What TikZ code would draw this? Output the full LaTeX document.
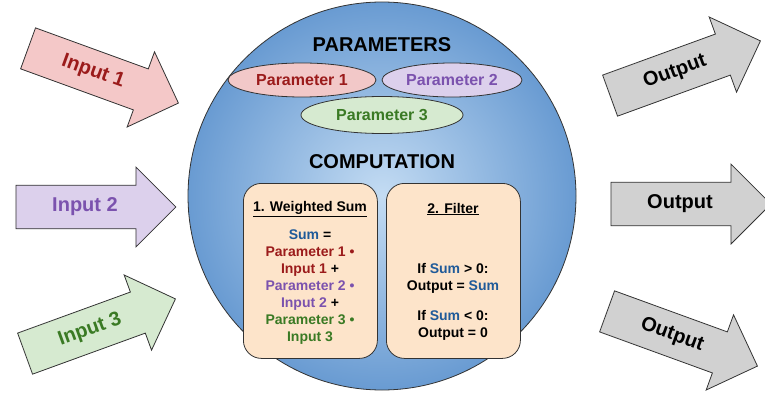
\documentclass[tikz,border=0pt]{standalone}
\usepackage{fontspec}
\setmainfont{Liberation Sans}
\usetikzlibrary{shapes.arrows,shapes.geometric}
\definecolor{cred}{HTML}{9B1B1B}
\definecolor{cpur}{HTML}{7B52AE}
\definecolor{cgrn}{HTML}{3A7A24}
\definecolor{cblu}{HTML}{1F5A99}
\begin{document}
\begin{tikzpicture}[x=1pt,y=-1pt,
  arr/.style={single arrow, draw=black!80, line width=0.8pt, minimum width=80pt, minimum height=160pt, single arrow head extend=17pt, inner xsep=4pt, inner ysep=11pt, font=\fontsize{20}{24}\selectfont\bfseries},
  par/.style={ellipse, draw=black!80, line width=0.8pt, inner sep=0pt, font=\fontsize{16}{18}\selectfont\bfseries},
  box/.style={rounded corners=18pt, draw=black!80, line width=0.8pt, fill={rgb,255:red,253;green,228;blue,202}, minimum width=134pt, minimum height=175pt, anchor=north west},
  btxt/.style={align=center, font=\fontsize{14}{17}\selectfont\bfseries}]
\useasboundingbox (0,0) rectangle (765,409);
\node[circle, draw=black!80, line width=0.8pt, minimum size=388pt, inner color={rgb,255:red,196;green,220;blue,243}, outer color={rgb,255:red,105;green,155;blue,210}] (c) at (382,196) {};
\node[font=\fontsize{20}{24}\selectfont\bfseries] (pt) at (382,45) {PARAMETERS};
\node[par, fill={rgb,255:red,242;green,200;blue,200}, text=cred, minimum width=148pt, minimum height=34pt] (p1) at (302,80) {Parameter 1};
\node[par, fill={rgb,255:red,220;green,208;blue,236}, text=cpur, minimum width=140pt, minimum height=34pt] (p2) at (452,80) {Parameter 2};
\node[par, fill={rgb,255:red,214;green,234;blue,208}, text=cgrn, minimum width=162pt, minimum height=37pt] (p3) at (382,115) {Parameter 3};
\node[font=\fontsize{20}{24}\selectfont\bfseries] (ct) at (382,162) {COMPUTATION};
\node[box] (b1) at (243,183) {};
\node[box] (b2) at (386,183) {};
\node[btxt] (b1t) at (310,209) {\underline{1. Weighted Sum}};
\node[btxt, anchor=north] (b1b) at (310,226) {\textcolor{cblu}{Sum} =\\ \textcolor{cred}{Parameter 1 •}\\ \textcolor{cred}{Input 1} +\\ \textcolor{cpur}{Parameter 2 •}\\ \textcolor{cpur}{Input 2} +\\ \textcolor{cgrn}{Parameter 3 •}\\ \textcolor{cgrn}{Input 3}};
\node[btxt] (b2t) at (453,209) {\underline{2. Filter}};
\node[btxt, anchor=north] (b2b) at (453,260) {If \textcolor{cblu}{Sum} > 0:\\ Output = \textcolor{cblu}{Sum}\\[13pt] If \textcolor{cblu}{Sum} < 0:\\ Output = 0};
\node[arr, fill={rgb,255:red,244;green,200;blue,200}, text=cred, rotate=-20] (i1) at (93,72) {Input 1};
\node[arr, fill={rgb,255:red,220;green,208;blue,236}, text=cpur] (i2) at (85,207) {Input 2};
\node[arr, fill={rgb,255:red,214;green,234;blue,208}, text=cgrn, rotate=20] (i3) at (90,330) {Input 3};
\node[arr, fill=black!18, rotate=20] (o1) at (675,72) {Output};
\node[arr, fill=black!18] (o2) at (680,204) {Output};
\node[arr, fill=black!18, rotate=-20] (o3) at (672,335) {Output};
\end{tikzpicture}
\end{document}
